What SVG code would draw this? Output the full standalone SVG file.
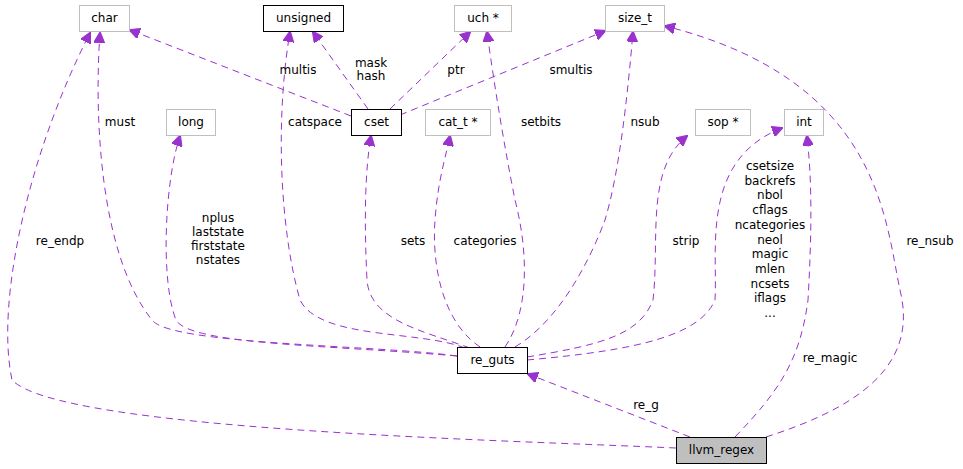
<svg xmlns="http://www.w3.org/2000/svg" width="963" height="469" viewBox="0 0 963 469">
<style>
text{font-family:"DejaVu Sans","Liberation Sans",sans-serif;font-size:12px;fill:#000;text-anchor:middle}
.n rect{fill:#fff;stroke:#bfbfbf;stroke-width:1}
.n.b rect{stroke:#000}
.e path{fill:none;stroke:#9a32cd;stroke-dasharray:7,5;stroke-width:1;marker-end:url(#a)}
</style>
<defs><marker id="a" viewBox="0 0 10 10" refX="9" refY="5" markerWidth="11" markerHeight="11" markerUnits="userSpaceOnUse" orient="auto"><path d="M0,0L10,5L0,10z" fill="#9a32cd" stroke="#9a32cd"/></marker></defs>
<rect width="963" height="469" fill="#fff"/>
<g id="connectors" class="e">
<path d="M676,448 C500,440 60,430 12,380 C-5,300 30,150 90,33"/>
<path d="M457,356 C380,345 170,345 152,320 C96,250 95,100 100,33"/>
<path d="M457,356 C330,345 190,345 176,320 C160,280 165,180 180,136"/>
<path d="M465,348 C420,330 320,340 300,300 C280,230 275,120 290,32"/>
<path d="M470,348 C420,330 370,320 367,280 C364,220 365,170 371,136"/>
<path d="M480,347 C440,320 432,260 435,220 C438,180 445,160 450,136"/>
<path d="M505,347 C530,310 528,250 515,200 C505,150 495,90 487,32"/>
<path d="M515,347 C560,320 590,260 605,220 C620,170 628,90 633,32"/>
<path d="M527,357 C600,345 640,335 653,300 C660,240 645,170 687,136"/>
<path d="M527,360 C640,350 700,335 715,300 C718,250 700,160 782,128"/>
<path d="M735,437 C780,390 800,360 808,300 C812,230 812,180 807,136"/>
<path d="M766,437 C850,410 920,370 900,290 C885,220 880,80 665,26"/>
<path d="M690,437 L528,374"/>
<path d="M351,116 L130,30"/>
<path d="M368,109 L313,32"/>
<path d="M390,109 L470,32"/>
<path d="M400,115 L605,31"/>
</g>
<g id="labels">
<text x="60" y="245">re_endp</text>
<text x="120" y="126">must</text>
<text x="218" y="222">nplus</text><text x="218" y="236">laststate</text><text x="218" y="250">firststate</text><text x="218" y="264">nstates</text>
<text x="315" y="126">catspace</text>
<text x="413" y="245">sets</text>
<text x="485" y="245">categories</text>
<text x="541" y="126">setbits</text>
<text x="645" y="126">nsub</text>
<text x="686" y="245">strip</text>
<text x="770" y="170">csetsize</text><text x="770" y="185">backrefs</text><text x="770" y="199">nbol</text><text x="770" y="214">cflags</text><text x="770" y="229">ncategories</text><text x="770" y="244">neol</text><text x="770" y="258">magic</text><text x="770" y="273">mlen</text><text x="770" y="288">ncsets</text><text x="770" y="302">iflags</text><text x="770" y="317">...</text>
<text x="830" y="362">re_magic</text>
<text x="930" y="245">re_nsub</text>
<text x="646" y="409">re_g</text>
<text x="298" y="74">multis</text>
<text x="371" y="67">mask</text><text x="371" y="80">hash</text>
<text x="456" y="74">ptr</text>
<text x="571" y="74">smultis</text>
</g>
<g id="char" class="n"><rect x="79.5" y="5.5" width="50" height="26"/><text x="104.5" y="22">char</text></g>
<g id="unsigned" class="n b"><rect x="263.5" y="5.5" width="80" height="26"/><text x="303.5" y="22">unsigned</text></g>
<g id="uch" class="n"><rect x="454.5" y="5.5" width="57" height="26"/><text x="483" y="22">uch *</text></g>
<g id="size_t" class="n"><rect x="605.5" y="5.5" width="59" height="26"/><text x="635" y="22">size_t</text></g>
<g id="long" class="n"><rect x="166.5" y="109.5" width="49" height="26"/><text x="191" y="126">long</text></g>
<g id="cset" class="n b"><rect x="351.5" y="109.5" width="50" height="26"/><text x="376.5" y="126">cset</text></g>
<g id="cat_t" class="n"><rect x="425.5" y="109.5" width="65" height="26"/><text x="458" y="126">cat_t *</text></g>
<g id="sop" class="n"><rect x="695.5" y="109.5" width="55" height="26"/><text x="723" y="126">sop *</text></g>
<g id="int" class="n"><rect x="784.5" y="109.5" width="39" height="26"/><text x="804" y="126">int</text></g>
<g id="re_guts" class="n b"><rect x="457.5" y="347.5" width="70" height="26"/><text x="492.5" y="364">re_guts</text></g>
<g id="llvm_regex" class="n b"><rect x="676.5" y="437.5" width="90" height="26" style="fill:#bfbfbf"/><text x="721.5" y="454">llvm_regex</text></g>
</svg>
